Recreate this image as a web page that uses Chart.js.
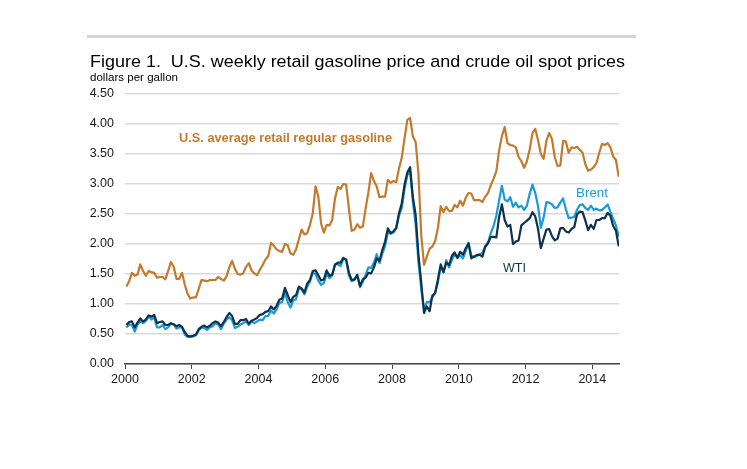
<!DOCTYPE html>
<html>
<head>
<meta charset="utf-8">
<script src="https://cdn.jsdelivr.net/npm/chart.js@4/dist/chart.umd.min.js"></script>
<style>
  html, body { margin: 0; padding: 0; background: #ffffff; }
  #wrap { width: 747px; height: 469px; }
</style>
</head>
<body>
<div id="wrap"><canvas id="c" width="747" height="469"></canvas></div>
<script>
// ---- Data (dollars per gallon, monthly readings, Jan 2000 – Oct 2014) ----
const startYear = 2000;
const monthCount = 178;
const yearTicks = [2000, 2002, 2004, 2006, 2008, 2010, 2012, 2014];
const valueTicks = [0, 0.5, 1, 1.5, 2, 2.5, 3, 3.5, 4, 4.5];

const gasoline = [
  1.29, 1.38, 1.52, 1.47, 1.49, 1.66, 1.55, 1.47, 1.55, 1.53, 1.52, 1.44,
  1.45, 1.45, 1.41, 1.55, 1.70, 1.62, 1.42, 1.42, 1.52, 1.32, 1.17, 1.09,
  1.11, 1.11, 1.25, 1.40, 1.39, 1.38, 1.40, 1.40, 1.40, 1.45, 1.42, 1.39,
  1.46, 1.61, 1.72, 1.59, 1.50, 1.49, 1.51, 1.62, 1.68, 1.56, 1.51, 1.48,
  1.57, 1.65, 1.74, 1.80, 2.02, 1.97, 1.91, 1.88, 1.87, 2.00, 1.98, 1.84,
  1.82, 1.91, 2.08, 2.24, 2.16, 2.18, 2.32, 2.51, 2.96, 2.79, 2.34, 2.19,
  2.32, 2.31, 2.40, 2.76, 2.95, 2.92, 3.00, 2.99, 2.59, 2.22, 2.24, 2.33,
  2.27, 2.29, 2.59, 2.86, 3.18, 3.05, 2.96, 2.78, 2.79, 2.79, 3.07, 3.02,
  3.05, 3.03, 3.26, 3.44, 3.76, 4.07, 4.10, 3.79, 3.70, 3.17, 2.15, 1.65,
  1.79, 1.92, 1.96, 2.05, 2.27, 2.63, 2.53, 2.62, 2.55, 2.55, 2.65, 2.61,
  2.72, 2.64, 2.77, 2.85, 2.84, 2.73, 2.73, 2.73, 2.70, 2.79, 2.85, 2.98,
  3.09, 3.21, 3.56, 3.80, 3.95, 3.68, 3.65, 3.64, 3.61, 3.45, 3.38, 3.27,
  3.38, 3.58, 3.85, 3.92, 3.73, 3.50, 3.42, 3.72, 3.85, 3.75, 3.45, 3.30,
  3.31, 3.72, 3.71, 3.52, 3.61, 3.60, 3.62, 3.57, 3.52, 3.33, 3.22, 3.24,
  3.28, 3.35, 3.52, 3.67, 3.65, 3.68, 3.61, 3.46, 3.40, 3.12
];

const brent = [
  0.61, 0.66, 0.65, 0.54, 0.66, 0.71, 0.68, 0.72, 0.79, 0.74, 0.78, 0.61,
  0.61, 0.65, 0.58, 0.61, 0.67, 0.66, 0.59, 0.61, 0.61, 0.49, 0.45, 0.45,
  0.46, 0.48, 0.56, 0.61, 0.60, 0.57, 0.61, 0.63, 0.68, 0.66, 0.58, 0.67,
  0.74, 0.78, 0.73, 0.60, 0.62, 0.66, 0.68, 0.71, 0.65, 0.71, 0.68, 0.71,
  0.74, 0.73, 0.80, 0.80, 0.89, 0.84, 0.91, 1.02, 1.03, 1.19, 1.03, 0.94,
  1.06, 1.08, 1.26, 1.24, 1.16, 1.29, 1.37, 1.52, 1.50, 1.39, 1.32, 1.35,
  1.50, 1.43, 1.48, 1.67, 1.66, 1.63, 1.75, 1.74, 1.48, 1.38, 1.40, 1.49,
  1.28, 1.37, 1.48, 1.61, 1.60, 1.69, 1.83, 1.68, 1.84, 1.96, 2.20, 2.17,
  2.19, 2.26, 2.47, 2.60, 2.92, 3.15, 3.20, 2.70, 2.32, 1.70, 1.25, 0.90,
  1.03, 1.03, 1.11, 1.19, 1.36, 1.63, 1.53, 1.73, 1.61, 1.73, 1.83, 1.77,
  1.81, 1.76, 1.88, 2.02, 1.81, 1.78, 1.80, 1.83, 1.85, 1.97, 2.03, 2.18,
  2.30, 2.47, 2.73, 2.97, 2.74, 2.71, 2.78, 2.62, 2.69, 2.61, 2.64, 2.57,
  2.64, 2.84, 2.99, 2.85, 2.63, 2.27, 2.44, 2.70, 2.69, 2.66, 2.60, 2.61,
  2.69, 2.76, 2.58, 2.43, 2.44, 2.45, 2.57, 2.65, 2.66, 2.60, 2.57, 2.64,
  2.57, 2.59, 2.56, 2.57, 2.61, 2.66, 2.54, 2.42, 2.31, 2.12
];

const wti = [
  0.65, 0.70, 0.71, 0.61, 0.69, 0.76, 0.71, 0.74, 0.81, 0.79, 0.82, 0.68,
  0.70, 0.71, 0.65, 0.65, 0.68, 0.66, 0.63, 0.65, 0.62, 0.53, 0.47, 0.46,
  0.47, 0.49, 0.58, 0.62, 0.64, 0.61, 0.64, 0.68, 0.71, 0.69, 0.63, 0.70,
  0.78, 0.85, 0.80, 0.67, 0.67, 0.73, 0.73, 0.75, 0.67, 0.72, 0.74, 0.77,
  0.82, 0.83, 0.87, 0.88, 0.96, 0.91, 0.97, 1.07, 1.09, 1.27, 1.15, 1.03,
  1.12, 1.15, 1.29, 1.26, 1.19, 1.34, 1.40, 1.55, 1.56, 1.48, 1.39, 1.41,
  1.56, 1.47, 1.49, 1.65, 1.69, 1.69, 1.77, 1.74, 1.52, 1.40, 1.41, 1.48,
  1.30, 1.41, 1.44, 1.52, 1.51, 1.61, 1.76, 1.72, 1.90, 2.04, 2.26, 2.18,
  2.21, 2.27, 2.51, 2.68, 2.99, 3.19, 3.28, 2.78, 2.48, 1.82, 1.36, 0.85,
  0.96, 0.88, 1.14, 1.18, 1.41, 1.66, 1.53, 1.69, 1.65, 1.80, 1.86, 1.77,
  1.87, 1.82, 1.93, 2.01, 1.76, 1.79, 1.82, 1.82, 1.79, 1.95, 2.01, 2.12,
  2.12, 2.11, 2.45, 2.66, 2.40, 2.29, 2.32, 2.00, 2.04, 2.06, 2.31, 2.35,
  2.39, 2.43, 2.53, 2.46, 2.25, 1.93, 2.09, 2.24, 2.25, 2.13, 2.06, 2.09,
  2.26, 2.27, 2.21, 2.19, 2.25, 2.28, 2.49, 2.54, 2.53, 2.39, 2.23, 2.32,
  2.25, 2.40, 2.40, 2.43, 2.43, 2.52, 2.47, 2.30, 2.22, 1.96
];

// month labels (categories) -> mid-month decimal year positions
const monthLabels = [];
for (let i = 0; i < monthCount; i++) {
  const y = startYear + Math.floor(i / 12), m = (i % 12) + 1;
  monthLabels.push(y + '-' + String(m).padStart(2, '0'));
}
function toPoints(values) {
  return values.map((v, i) => {
    const [y, m] = monthLabels[i].split('-').map(Number);
    return { x: y + (m - 0.5) / 12, y: v };
  });
}

const FONT = "'Liberation Sans', Arial, Helvetica, sans-serif";
const COL_GAS = '#c47a2c';
const COL_BRENT = '#1a9bd7';
const COL_WTI = '#0f324b';

function fitText(ctx, text, x, y, width, font, color) {
  ctx.save();
  ctx.font = font;
  ctx.fillStyle = color;
  ctx.textBaseline = 'alphabetic';
  ctx.textAlign = 'left';
  const w = ctx.measureText(text).width;
  ctx.translate(x, y);
  ctx.scale(width / w, 1);
  ctx.fillText(text, 0, 0);
  ctx.restore();
}

const textPlugin = {
  id: 'texts',
  beforeDraw(chart) {
    const ctx = chart.ctx;
    ctx.save();
    ctx.fillStyle = '#ffffff';
    ctx.fillRect(0, 0, chart.width, chart.height);
    ctx.fillStyle = '#d4d4d4';
    ctx.fillRect(87, 35, 549, 3);
    ctx.restore();
  },
  afterDraw(chart) {
    const ctx = chart.ctx;
    fitText(ctx, 'Figure 1.  U.S. weekly retail gasoline price and crude oil spot prices',
      90, 66.5, 535, '17px ' + FONT, '#000000');
    fitText(ctx, 'dollars per gallon', 90, 81, 88, '11.5px ' + FONT, '#000000');
    fitText(ctx, 'U.S. average retail regular gasoline', 179, 141.5, 213, 'bold 13px ' + FONT, COL_GAS);
    fitText(ctx, 'Brent', 576, 196.5, 32, '13px ' + FONT, COL_BRENT);
    fitText(ctx, 'WTI', 503, 272, 23, '13px ' + FONT, COL_WTI);
  }
};

new Chart(document.getElementById('c'), {
  type: 'line',
  data: {
    datasets: [
      { label: 'WTI', data: toPoints(wti), borderColor: COL_WTI, borderWidth: 2.2, pointRadius: 0, tension: 0, borderJoinStyle: 'round' },
      { label: 'Brent', data: toPoints(brent), borderColor: COL_BRENT, borderWidth: 2.2, pointRadius: 0, tension: 0, borderJoinStyle: 'round' },
      { label: 'U.S. average retail regular gasoline', data: toPoints(gasoline), borderColor: COL_GAS, borderWidth: 2.2, pointRadius: 0, tension: 0, borderJoinStyle: 'round' }
    ]
  },
  options: {
    responsive: false,
    animation: false,
    devicePixelRatio: 1,
    layout: { padding: { left: 0, right: 128, top: 94, bottom: 75 } },
    plugins: { legend: { display: false }, tooltip: { enabled: false }, title: { display: false } },
    scales: {
      x: {
        type: 'linear',
        min: 2000,
        max: 2014.8,
        afterFit(scale) { scale.height = 30; },
        afterBuildTicks(scale) { scale.ticks = yearTicks.map(v => ({ value: v })); },
        ticks: {
          autoSkip: false,
          maxRotation: 0,
          padding: 3,
          color: '#1a1a1a',
          font: { family: FONT, size: 12.5 },
          callback: v => String(v)
        },
        grid: { display: true, drawOnChartArea: false, drawTicks: true, tickLength: 5, color: '#444444', lineWidth: 1 },
        border: { display: true, color: '#444444', width: 1.5 }
      },
      y: {
        min: 0,
        max: 4.5,
        afterFit(scale) { scale.width = 125; },
        afterBuildTicks(scale) { scale.ticks = valueTicks.map(v => ({ value: v })); },
        ticks: {
          padding: 11,
          color: '#1a1a1a',
          font: { family: FONT, size: 12.5 },
          callback: v => Number(v).toFixed(2)
        },
        grid: { color: '#d9d9d9', lineWidth: 1.5, drawTicks: false },
        border: { display: false }
      }
    }
  },
  plugins: [textPlugin]
});
</script>
</body>
</html>
